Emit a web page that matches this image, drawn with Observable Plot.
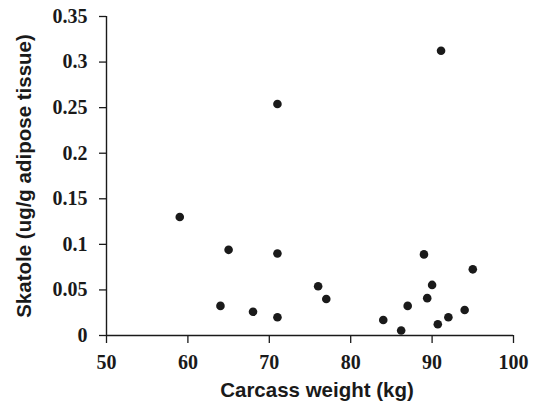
<!DOCTYPE html>
<html>
<head>
<meta charset="utf-8">
<script src="https://cdn.jsdelivr.net/npm/d3@7"></script>
<script src="https://cdn.jsdelivr.net/npm/@observablehq/plot@0.6"></script>
<style>
  html, body { margin: 0; padding: 0; background: #fff; }
</style>
</head>
<body>
<div id="chart"></div>
<script>
// Carcass weight (kg)
const carcassWeight = [59, 64, 65, 68, 71, 71, 71, 76, 77, 84, 86.2, 87, 89, 89.4, 90, 90.7, 91.1, 92, 94, 95];
// Skatole (ug/g adipose tissue)
const skatole = [0.130, 0.0325, 0.094, 0.026, 0.090, 0.020, 0.254, 0.054, 0.040, 0.017, 0.0055, 0.0325, 0.089, 0.041, 0.0555, 0.0124, 0.3125, 0.020, 0.028, 0.0726];

const xTicks = [50, 60, 70, 80, 90, 100];
const xTickLabels = ["50", "60", "70", "80", "90", "100"];
const yTicks = [0, 0.05, 0.1, 0.15, 0.2, 0.25, 0.3, 0.35];
const yTickLabels = ["0", "0.05", "0.1", "0.15", "0.2", "0.25", "0.3", "0.35"];

const xTitle = "Carcass weight (kg)";
const yTitle = "Skatole (ug/g adipose tissue)";

const points = carcassWeight.map((w, i) => ({w, s: skatole[i]}));

const ink = "#1a1a1a";
const tickFont = {fontFamily: "Liberation Serif, Times New Roman, serif", fontWeight: "bold", fontSize: 20};
const titleFont = {fontFamily: "Liberation Sans, Arial, sans-serif", fontWeight: "bold", fontSize: 20.5};

const chart = Plot.plot({
  width: 533,
  height: 401,
  marginLeft: 106,
  marginRight: 20,
  marginTop: 16,
  marginBottom: 66,
  style: {background: "#fff", color: ink, overflow: "visible"},
  x: {domain: [50, 100]},
  y: {domain: [0, 0.35]},
  marks: [
    Plot.axisX({
      ticks: xTicks,
      tickFormat: d => xTickLabels[xTicks.indexOf(d)],
      tickSize: 8,
      tickPadding: 11,
      strokeWidth: 1.3,
      label: null,
      ...tickFont
    }),
    Plot.axisY({
      ticks: yTicks,
      tickFormat: d => yTickLabels[yTicks.indexOf(d)],
      tickSize: 7,
      tickPadding: 12,
      strokeWidth: 1.3,
      label: null,
      ...tickFont
    }),
    Plot.ruleY([0], {stroke: ink, strokeWidth: 1.4}),
    Plot.ruleX([50], {stroke: ink, strokeWidth: 1.4}),
    Plot.dot(points, {x: "w", y: "s", r: 4.3, fill: ink, stroke: "none"}),
    Plot.text([xTitle], {
      text: d => d,
      frameAnchor: "bottom",
      dx: 7,
      dy: 55,
      lineAnchor: "middle",
      fill: ink,
      ...titleFont
    }),
    Plot.text([yTitle], {
      text: d => d,
      frameAnchor: "left",
      textAnchor: "middle",
      rotate: -90,
      dx: -82,
      lineAnchor: "middle",
      fill: ink,
      ...titleFont
    })
  ]
});

document.getElementById("chart").appendChild(chart);
</script>
</body>
</html>
